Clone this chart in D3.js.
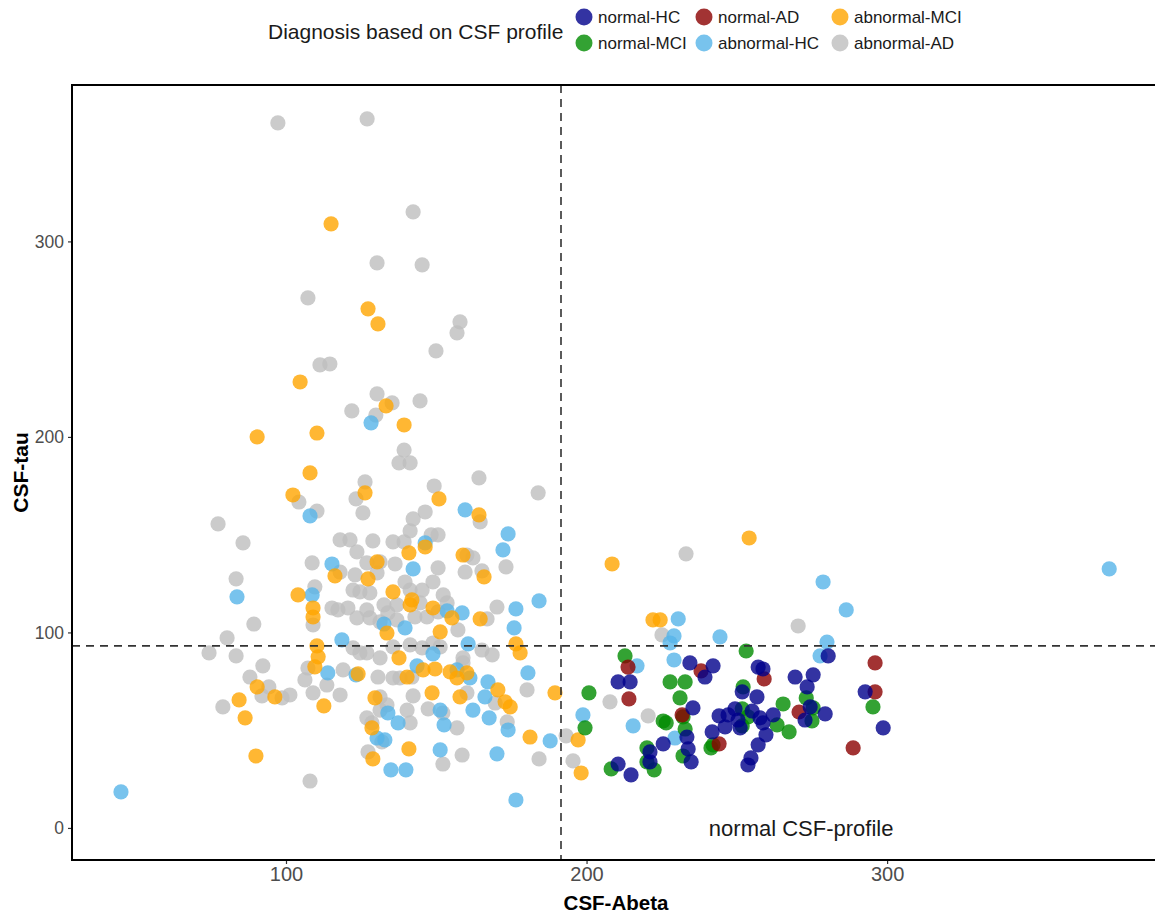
<!DOCTYPE html>
<html>
<head>
<meta charset="utf-8">
<script src="https://cdn.jsdelivr.net/npm/d3@7"></script>
<style>
  body { margin: 0; background: #fff; }
  svg { font-family: "Liberation Sans", Arial, Helvetica, sans-serif; }
</style>
</head>
<body>
<div id="chart"></div>
<script>
(function() {
  'use strict';

  // legend order (ggplot fills the 2-row legend by column)
  var groups = ['normal-HC', 'normal-MCI', 'normal-AD', 'abnormal-HC', 'abnormal-MCI', 'abnormal-AD'];
  var groupColors = ['#00008B', '#008B00', '#8B0000', '#56B4E9', '#FFA500', '#BEBEBE'];

  // cut-offs
  var abetaCut = 191.5;
  var tauCut = 93.1;

  var xTicks = [100, 200, 300];
  var yTicks = [0, 100, 200, 300];

  // [CSF-Abeta, CSF-tau]
  var abnormalAD = [
    [97.3, 360.6], [127.0, 362.7], [142.3, 315.1], [130.3, 289.0], [145.3, 288.0], [107.3, 271.1],
    [157.9, 258.8], [156.9, 253.2], [149.9, 244.0], [111.3, 236.8], [114.6, 237.3], [130.3, 222.0],
    [135.3, 217.4], [129.9, 211.2], [144.6, 218.4], [121.9, 213.3], [139.3, 193.3], [137.6, 186.7],
    [141.3, 186.7], [149.3, 174.9], [126.3, 177.0], [123.3, 168.3], [125.6, 161.1], [104.3, 166.7],
    [110.3, 162.1], [77.4, 155.5], [146.3, 161.6], [142.3, 158.1], [141.3, 151.9], [148.3, 149.9],
    [150.6, 149.9], [118.0, 147.3], [121.3, 147.3], [128.9, 146.8], [135.6, 146.3], [85.7, 145.8],
    [123.6, 141.2], [139.3, 146.3], [108.7, 135.6], [118.0, 130.9], [123.0, 129.4], [126.9, 135.6],
    [131.3, 136.1], [130.3, 130.4], [136.3, 135.0], [139.6, 125.8], [141.3, 121.7], [145.3, 121.7],
    [148.9, 125.8], [150.6, 133.0], [152.3, 119.2], [159.6, 130.9], [160.2, 139.6], [83.4, 127.4],
    [109.6, 123.3], [122.3, 121.7], [124.6, 120.7], [127.9, 120.2], [132.6, 114.1], [136.9, 114.1],
    [142.9, 107.9], [146.9, 107.9], [144.6, 115.1], [115.3, 112.5], [117.3, 111.5], [120.6, 112.5],
    [123.6, 107.4], [126.9, 111.5], [127.9, 107.4], [131.3, 105.4], [136.9, 106.4], [133.9, 110.0],
    [150.6, 110.5], [157.2, 101.3], [89.3, 104.3], [80.4, 97.2], [74.4, 89.5], [83.4, 88.0],
    [109.0, 103.8], [122.3, 92.1], [124.6, 89.5], [126.9, 89.5], [131.3, 87.0], [135.6, 92.6],
    [141.3, 93.6], [145.3, 92.1], [148.9, 94.6], [151.3, 92.6], [158.9, 87.0], [92.3, 82.9],
    [88.0, 77.2], [94.3, 72.1], [107.3, 81.8], [106.3, 75.7], [113.6, 73.1], [119.0, 80.8],
    [130.6, 77.2], [135.6, 76.7], [137.9, 76.7], [141.9, 77.2], [158.9, 84.4], [109.0, 69.1],
    [118.0, 68.0], [101.3, 68.0], [160.2, 69.1], [131.3, 67.0], [142.3, 67.5], [79.0, 61.9],
    [92.0, 67.5], [98.7, 66.5], [126.9, 56.3], [128.6, 53.7], [133.6, 62.9], [131.3, 60.3],
    [140.3, 60.3], [141.3, 53.7], [147.3, 60.9], [152.2, 58.8], [156.9, 51.2], [127.3, 38.9],
    [131.9, 44.0], [158.6, 37.3], [152.2, 32.7], [108.0, 24.0], [164.2, 179.0], [183.9, 171.4],
    [164.6, 156.5], [170.2, 113.0], [173.2, 133.5], [165.2, 131.5], [162.2, 138.1], [166.9, 106.9],
    [153.6, 115.1], [165.2, 91.0], [168.6, 88.5], [169.6, 63.9], [173.6, 54.2], [180.2, 70.6],
    [184.2, 35.3], [193.2, 47.1], [195.5, 34.3], [233.1, 140.2], [270.4, 103.3], [225.1, 98.7],
    [207.8, 64.5], [220.5, 57.3]
  ];

  var abnormalHC = [
    [45.1, 18.4], [373.9, 132.5], [278.7, 125.8], [286.4, 111.5], [280.0, 95.1], [277.7, 88.0],
    [230.5, 106.9], [229.1, 98.2], [227.8, 94.6], [229.1, 85.9], [244.4, 97.7], [216.8, 82.9],
    [198.8, 57.8], [215.5, 52.2], [229.4, 46.0], [184.2, 116.1], [176.5, 112.0], [175.9, 102.3],
    [180.5, 79.3], [187.9, 44.5], [170.2, 37.9], [176.5, 14.3], [167.2, 74.7], [166.2, 67.0],
    [162.2, 60.3], [167.6, 56.3], [173.9, 50.1], [158.6, 110.0], [153.6, 111.0], [160.6, 94.1],
    [161.2, 76.7], [151.3, 60.3], [151.3, 39.9], [172.2, 142.2], [159.6, 162.7], [173.9, 150.4],
    [128.3, 207.2], [108.0, 159.6], [115.3, 135.0], [142.3, 132.5], [146.3, 145.8], [83.7, 118.2],
    [108.7, 119.2], [118.6, 96.2], [132.6, 104.3], [139.6, 102.3], [148.9, 89.0], [113.9, 79.3],
    [123.3, 78.3], [143.6, 82.9], [156.9, 80.8], [133.9, 58.8], [137.3, 53.7], [152.6, 52.7],
    [130.3, 46.0], [132.9, 45.0], [134.9, 29.7], [139.9, 29.7]
  ];

  var abnormalMCI = [
    [115.0, 309.0], [127.3, 265.5], [130.6, 257.8], [104.7, 228.1], [90.4, 200.0], [110.3, 202.0],
    [133.3, 215.9], [139.3, 206.1], [108.0, 181.6], [102.3, 170.3], [126.3, 171.4], [150.9, 168.3],
    [164.2, 160.1], [208.5, 135.0], [254.1, 148.3], [222.1, 106.4], [224.5, 106.4], [140.9, 140.7],
    [146.3, 143.7], [130.3, 136.1], [116.3, 128.9], [127.3, 127.4], [135.6, 120.7], [141.9, 116.6],
    [104.0, 119.2], [109.0, 112.5], [109.0, 107.9], [133.6, 99.7], [148.9, 112.5], [151.3, 100.3],
    [155.2, 107.4], [158.9, 139.6], [110.3, 93.1], [110.7, 87.5], [109.6, 82.4], [90.4, 72.1],
    [84.4, 65.5], [96.3, 67.0], [137.6, 87.0], [140.3, 77.2], [145.6, 80.8], [149.6, 81.3],
    [154.6, 79.8], [156.9, 76.7], [148.6, 69.1], [129.6, 66.5], [157.9, 67.0], [124.0, 78.8],
    [141.3, 114.1], [86.4, 56.3], [112.6, 62.4], [128.6, 51.2], [128.9, 35.3], [140.9, 40.4],
    [90.0, 36.8], [165.9, 128.4], [164.6, 106.9], [176.5, 94.1], [177.9, 89.5], [160.2, 79.3],
    [170.5, 70.6], [172.9, 64.5], [174.6, 61.9], [189.5, 69.1], [181.2, 46.5], [197.2, 45.0],
    [198.2, 28.1]
  ];

  var normalMCI = [
    [212.8, 88.0], [253.1, 90.5], [227.8, 74.7], [232.8, 74.7], [200.8, 69.1], [199.5, 51.2],
    [231.1, 66.5], [252.1, 72.1], [265.4, 63.4], [273.1, 66.5], [275.4, 61.4], [275.0, 54.7],
    [295.3, 61.9], [225.5, 54.7], [226.5, 53.7], [232.1, 56.8], [232.8, 50.6], [251.8, 60.9],
    [253.7, 56.8], [263.4, 52.7], [267.4, 49.1], [241.4, 40.9], [242.1, 42.5], [220.1, 40.9],
    [220.1, 33.8], [222.5, 29.7], [208.2, 30.2], [232.1, 36.8], [251.8, 52.2]
  ];

  var normalAD = [
    [213.8, 82.3], [238.1, 80.3], [259.1, 76.2], [296.0, 84.4], [214.1, 66.0], [296.0, 69.6],
    [270.7, 59.3], [288.7, 40.9], [231.8, 57.8], [244.1, 43.0]
  ];

  var normalHC = [
    [234.4, 84.4], [242.1, 82.9], [257.1, 82.3], [258.7, 81.3], [269.4, 77.2], [275.4, 78.3],
    [280.4, 88.0], [210.5, 74.7], [214.5, 74.7], [239.4, 77.2], [273.4, 72.1], [235.4, 61.4],
    [244.1, 57.3], [249.4, 60.9], [250.4, 55.2], [256.7, 67.0], [251.8, 69.6], [257.7, 56.3],
    [262.1, 57.8], [258.7, 53.7], [246.1, 51.7], [241.8, 49.1], [251.1, 51.2], [259.7, 47.6],
    [257.1, 42.5], [272.7, 55.2], [274.4, 61.9], [279.4, 58.3], [292.7, 69.6], [298.7, 51.2],
    [233.4, 46.5], [233.8, 40.4], [234.8, 33.8], [225.5, 43.0], [221.1, 38.9], [221.1, 33.8],
    [210.5, 32.7], [214.8, 27.1], [254.7, 35.8], [253.7, 32.2], [247.1, 57.8], [255.1, 59.8]
  ];

  // drawing order
  var layers = [
    ['abnormal-AD', abnormalAD],
    ['abnormal-HC', abnormalHC],
    ['abnormal-MCI', abnormalMCI],
    ['normal-MCI', normalMCI],
    ['normal-AD', normalAD],
    ['normal-HC', normalHC]
  ];

  var width = 1155, height = 915;
  var margin = {top: 85, right: -5, bottom: 55, left: 72};
  var innerW = width - margin.left - margin.right;
  var innerH = height - margin.top - margin.bottom;

  var color = d3.scaleOrdinal().domain(groups).range(groupColors);
  var x = d3.scaleLinear().domain([28.8, 390.8]).range([0, innerW]);
  var y = d3.scaleLinear().domain([-16.4, 380]).range([innerH, 0]);

  var svg = d3.select('#chart').append('svg')
      .attr('width', width)
      .attr('height', height);

  var g = svg.append('g')
      .attr('transform', 'translate(' + margin.left + ',' + margin.top + ')');

  // points
  var data = [];
  layers.forEach(function(l) {
    l[1].forEach(function(p) { data.push({group: l[0], abeta: p[0], tau: p[1]}); });
  });

  g.append('g').selectAll('circle')
    .data(data)
    .enter().append('circle')
      .attr('cx', function(d) { return x(d.abeta); })
      .attr('cy', function(d) { return y(d.tau); })
      .attr('r', 7.6)
      .style('fill', function(d) { return color(d.group); })
      .style('fill-opacity', 0.8);

  // cut-off lines
  g.append('line')
    .attr('x1', x(abetaCut)).attr('x2', x(abetaCut))
    .attr('y1', 0).attr('y2', innerH)
    .style('stroke', '#333').style('stroke-width', 1.6)
    .style('stroke-dasharray', '8,6');
  g.append('line')
    .attr('x1', 0).attr('x2', innerW)
    .attr('y1', y(tauCut)).attr('y2', y(tauCut))
    .style('stroke', '#333').style('stroke-width', 1.6)
    .style('stroke-dasharray', '8,6');

  g.append('text')
    .attr('x', x(271.4))
    .attr('y', y(0))
    .attr('dy', '0.35em')
    .style('text-anchor', 'middle')
    .style('font-size', '22px')
    .style('fill', '#1a1a1a')
    .text('normal CSF-profile');

  // axes
  var xAxis = g.append('g')
      .attr('transform', 'translate(0,' + innerH + ')')
      .call(d3.axisBottom(x).tickValues(xTicks).tickSize(4).tickPadding(3));
  var yAxis = g.append('g')
      .call(d3.axisLeft(y).tickValues(yTicks).tickSize(4).tickPadding(4));

  [xAxis, yAxis].forEach(function(a) {
    a.select('.domain').remove();
    a.selectAll('.tick line').style('stroke', '#333').style('stroke-width', 1.2);
    a.selectAll('.tick text')
      .style('fill', '#4d4d4d')
      .style('font-family', '"Liberation Sans", Arial, sans-serif');
  });
  xAxis.selectAll('.tick text').style('font-size', '20px');
  yAxis.selectAll('.tick text').style('font-size', '17.5px');

  // panel border
  g.append('rect')
    .attr('width', innerW).attr('height', innerH)
    .style('fill', 'none')
    .style('stroke', '#000')
    .style('stroke-width', 2);

  // axis titles
  svg.append('text')
    .attr('x', margin.left + innerW / 2)
    .attr('y', 910)
    .style('text-anchor', 'middle')
    .style('font-weight', 'bold')
    .style('font-size', '20.5px')
    .text('CSF-Abeta');

  svg.append('text')
    .attr('transform', 'translate(28,' + (margin.top + innerH / 2) + ') rotate(-90)')
    .style('text-anchor', 'middle')
    .style('font-weight', 'bold')
    .style('font-size', '21px')
    .text('CSF-tau');

  // legend
  var legend = svg.append('g');
  legend.append('text')
    .attr('x', 268).attr('y', 32)
    .attr('dy', '0.35em')
    .style('font-size', '21px')
    .style('fill', '#1a1a1a')
    .text('Diagnosis based on CSF profile');

  var colX = [584, 704, 840];
  var rowY = [17, 43];
  var items = legend.selectAll('.item')
    .data(groups)
    .enter().append('g')
      .attr('class', 'item')
      .attr('transform', function(d, i) {
        return 'translate(' + colX[Math.floor(i / 2)] + ',' + rowY[i % 2] + ')';
      });
  items.append('circle')
    .attr('r', 8.5)
    .style('fill', function(d) { return color(d); })
    .style('fill-opacity', 0.8);
  items.append('text')
    .attr('x', 14)
    .attr('dy', '0.35em')
    .style('font-size', '17px')
    .style('fill', '#1a1a1a')
    .text(function(d) { return d; });
})();
</script>
</body>
</html>
